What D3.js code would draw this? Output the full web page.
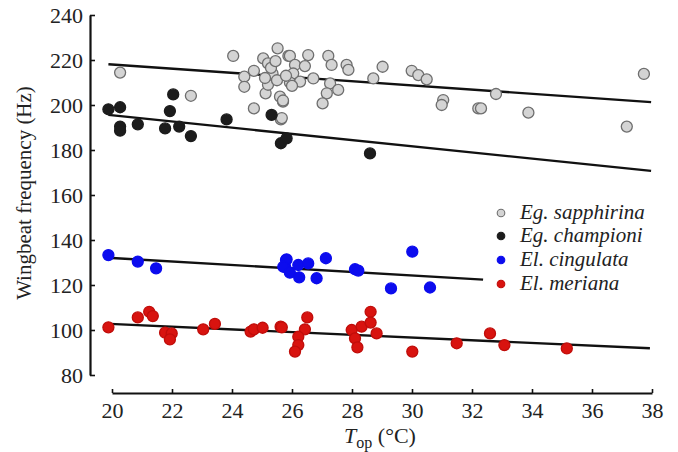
<!DOCTYPE html>
<html>
<head>
<meta charset="utf-8">
<script src="https://cdn.jsdelivr.net/npm/d3@7"></script>
<style>
  body { margin: 0; background: #fff; }
  svg { display: block; }
  svg text { font-family: "Liberation Serif", "Times New Roman", Times, "DejaVu Serif", serif; }
  .axis text { font-size: 22px; fill: #222; }
  .axis path, .axis line { stroke: #111; }
</style>
</head>
<body>
<svg width="678" height="452"></svg>
<script>

// Wingbeat frequency (Hz) vs operative temperature

// Eg. sapphirina (grey, open)
const sapphT = [20.27, 22.63, 24.04, 24.41, 24.41, 24.73, 24.73, 25.04, 25.2, 25.52, 25.88, 25.12, 25.2, 25.6,
                25.63, 25.7, 25.93, 26.54, 27.21, 27.32, 27.82, 27.88, 29.02, 29.99, 30.21, 30.49, 31.04, 30.99,
                32.21, 28.71, 27.27, 27.16, 27.54, 27.02, 26.1, 26.43, 26.04, 26.71, 25.93, 26.27, 25.7, 25.66,
                25.35, 25.5, 25.3, 25.8, 25.1, 25.45, 26.0, 32.8, 32.3, 33.88, 37.16, 37.73];
const sapphHz = [214.4, 204.1, 221.8, 212.6, 208.1, 215.2, 198.5, 220.7, 218.5, 225.2, 221.8, 205.2, 209.0, 203.7,
                 193.6, 201.5, 221.8, 222.2, 221.8, 217.8, 217.8, 215.6, 217.0, 215.2, 213.3, 211.4, 202.2, 200.0,
                 198.5, 211.8, 209.6, 205.2, 206.7, 200.7, 217.8, 217.3, 214.0, 211.8, 210.0, 210.4, 202.0, 194.2,
                 214.0, 211.0, 216.5, 213.0, 212.0, 219.5, 208.5, 204.9, 198.5, 196.6, 190.4, 213.8];

// Eg. championi (black)
const champT = [19.88, 20.27, 20.27, 20.27, 20.86, 21.77, 22.24, 22.63, 22.04, 21.93, 23.82, 25.32, 25.63, 25.82, 28.6];
const champHz = [198.1, 199.0, 190.4, 188.6, 191.4, 189.6, 190.4, 186.2, 204.7, 197.3, 193.6, 195.6, 183.0, 185.2, 178.5];

// El. cingulata (blue)
const cingT = [19.88, 20.86, 21.47, 25.8, 25.77, 25.82, 25.71, 25.93, 26.21, 26.24, 26.54, 26.82, 27.13, 28.1,
               28.21, 29.3, 30.01, 30.6];
const cingHz = [133.3, 130.4, 127.4, 131.1, 128.1, 131.4, 128.1, 125.5, 128.9, 123.4, 129.6, 123.0, 131.9, 127.0,
                126.4, 118.5, 134.8, 118.9];

// El. meriana (red)
const merT = [19.88, 20.86, 21.24, 21.36, 21.77, 21.99, 21.93, 23.04, 23.43, 24.62, 24.73, 25.02, 25.62, 25.66,
              26.51, 26.43, 26.21, 26.21, 26.1, 27.99, 28.1, 28.18, 28.32, 28.62, 28.62, 28.82, 30.01, 31.49,
              32.6, 33.08, 35.16];
const merHz = [101.2, 105.6, 108.1, 106.2, 98.8, 98.5, 95.8, 100.3, 102.7, 99.3, 100.3, 101.0, 101.5, 101.2,
               105.6, 100.3, 97.0, 93.3, 90.4, 100.0, 96.3, 92.3, 101.5, 108.1, 103.3, 98.5, 90.4, 94.1,
               98.5, 93.3, 91.8];

// fitted lines, [T start, Hz start, T end, Hz end]
const fitSapph = [19.88, 218.1, 37.97, 201.3];
const fitChamp = [19.88, 195.6, 37.97, 170.7];
const fitCing = [20.0, 132.0, 32.37, 122.4];
const fitMer = [19.93, 102.7, 37.93, 91.9];

const species = ["Eg. sapphirina", "Eg. championi", "El. cingulata", "El. meriana"];
const xTicks = [20, 22, 24, 26, 28, 30, 32, 34, 36, 38];
const yTicks = [80, 100, 120, 140, 160, 180, 200, 220, 240];


const svg = d3.select("svg");

const x = d3.scaleLinear().domain([20, 38]).range([112, 652]);
const y = d3.scaleLinear().domain([80, 240]).range([375, 15]);

// axes, offset from each other like the original
const yAxis = svg.append("g")
    .attr("class", "axis")
    .attr("transform", "translate(90,0)")
    .call(d3.axisLeft(y).tickValues(yTicks).tickSize(-5).tickSizeOuter(0).tickPadding(7));
yAxis.attr("font-family", null);
yAxis.select(".domain").attr("stroke-width", 2.2);
yAxis.selectAll(".tick line").attr("stroke-width", 1.6);

const xAxis = svg.append("g")
    .attr("class", "axis")
    .attr("transform", "translate(0,393)")
    .call(d3.axisBottom(x).tickValues(xTicks).tickSize(-4).tickSizeOuter(0).tickPadding(9));
xAxis.attr("font-family", null);
xAxis.select(".domain").attr("stroke-width", 2.2);
xAxis.selectAll(".tick line").attr("stroke-width", 1.6);

// axis titles
svg.append("text")
    .attr("transform", "translate(31,193) rotate(-90)")
    .attr("text-anchor", "middle")
    .style("font-size", "21px")
    .attr("fill", "#222")
    .text("Wingbeat frequency (Hz)");

const xt = svg.append("text")
    .attr("x", 380)
    .attr("y", 443)
    .attr("text-anchor", "middle")
    .style("font-size", "22px")
    .attr("fill", "#222");
xt.append("tspan").style("font-style", "italic").text("T");
xt.append("tspan").attr("dy", 5).style("font-size", "16px").text("op");
xt.append("tspan").attr("dy", -5).text(" (°C)");

// regression lines
const fits = [fitSapph, fitChamp, fitCing, fitMer];
svg.selectAll("line.fit")
    .data(fits)
    .enter()
    .append("line")
    .attr("class", "fit")
    .attr("x1", function(d){return x(d[0])})
    .attr("y1", function(d){return y(d[1])})
    .attr("x2", function(d){return x(d[2])})
    .attr("y2", function(d){return y(d[3])})
    .attr("stroke", "#111")
    .attr("stroke-width", 2.4);

// points
const groups = [
    {t: sapphT, hz: sapphHz, fill: "#d4d4d4", stroke: "#6e6e6e"},
    {t: champT, hz: champHz, fill: "#1c1c1c", stroke: "#1c1c1c"},
    {t: cingT, hz: cingHz, fill: "#0c0cee", stroke: "#0c0cee"},
    {t: merT, hz: merHz, fill: "#d8130f", stroke: "#c00d0a"}
];

groups.forEach(function(g){
    svg.append("g")
        .selectAll("circle")
        .data(d3.range(g.t.length))
        .enter()
        .append("circle")
        .attr("cx", function(i){return x(g.t[i])})
        .attr("cy", function(i){return y(g.hz[i])})
        .attr("r", 5.5)
        .attr("fill", g.fill)
        .attr("stroke", g.stroke)
        .attr("stroke-width", 1.3);
});

// legend
const legendY = [213, 236, 260, 284];
const legend = svg.append("g");
species.forEach(function(s, i){
    legend.append("circle")
        .attr("cx", 501)
        .attr("cy", legendY[i])
        .attr("r", 3.8)
        .attr("fill", groups[i].fill)
        .attr("stroke", groups[i].stroke)
        .attr("stroke-width", 1.1);
    legend.append("text")
        .attr("x", 520)
        .attr("y", legendY[i] + 6)
        .style("font-style", "italic")
        .style("font-size", "21px")
        .attr("fill", "#222")
        .text(s);
});

</script>
</body>
</html>
